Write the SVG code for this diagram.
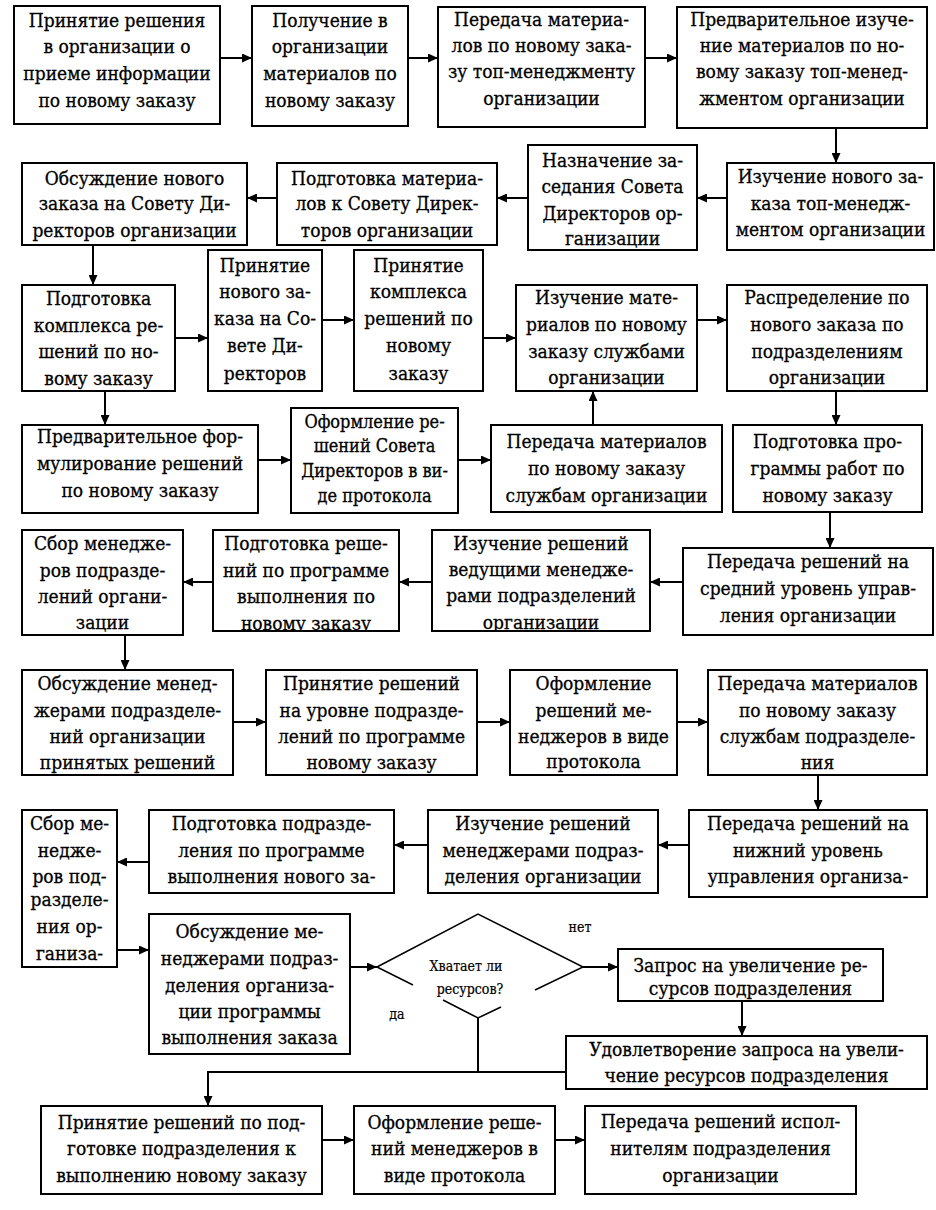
<svg xmlns="http://www.w3.org/2000/svg" width="936" height="1210" viewBox="0 0 936 1210">
<style>
.b{fill:#fff;stroke:#000;stroke-width:2}
.t{font-family:'DejaVu Serif Condensed','DejaVu Serif','Liberation Serif',serif;font-size:19px;text-anchor:middle;fill:#000;stroke:#000;stroke-width:0.3}
.s{font-family:'DejaVu Serif Condensed','DejaVu Serif','Liberation Serif',serif;font-size:14px;text-anchor:middle;fill:#000;stroke:#000;stroke-width:0.2}
.c{fill:none;stroke:#000;stroke-width:2;marker-end:url(#ah)}
.l{fill:none;stroke:#000;stroke-width:2}
</style>
<defs>
<marker id="ah" markerUnits="userSpaceOnUse" markerWidth="11" markerHeight="9" refX="10" refY="4.5" orient="auto"><path d="M0,0 L10,4.5 L0,9 z" fill="#000"/></marker>
<clipPath id="cp19"><rect x="432" y="530" width="218" height="101"/></clipPath>
<clipPath id="cp20"><rect x="213" y="530" width="186" height="101"/></clipPath>
</defs>
<rect width="936" height="1210" fill="#fff"/>

<g id="n1"><rect class="b" x="14" y="6" width="206" height="118"/><text class="t"><tspan x="117" y="27">Принятие решения</tspan><tspan x="117" y="53">в организации о</tspan><tspan x="117" y="80">приеме информации</tspan><tspan x="117" y="107">по новому заказу</tspan></text></g>
<g id="n2"><rect class="b" x="252" y="6" width="156" height="120"/><text class="t"><tspan x="330" y="27">Получение  в</tspan><tspan x="330" y="53">организации</tspan><tspan x="330" y="80">материалов по</tspan><tspan x="330" y="107">новому заказу</tspan></text></g>
<g id="n3"><rect class="b" x="438" y="7" width="207" height="120"/><text class="t"><tspan x="541.5" y="26">Передача материа-</tspan><tspan x="541.5" y="52">лов по новому зака-</tspan><tspan x="541.5" y="78">зу топ-менеджменту</tspan><tspan x="541.5" y="105">организации</tspan></text></g>
<g id="n4"><rect class="b" x="677" y="7" width="250" height="121"/><text class="t"><tspan x="802" y="26">Предварительное изуче-</tspan><tspan x="802" y="52">ние материалов по но-</tspan><tspan x="802" y="78">вому заказу топ-менед-</tspan><tspan x="802" y="105">жментом организации</tspan></text></g>
<g id="n5"><rect class="b" x="727" y="163" width="207" height="87"/><text class="t"><tspan x="830.5" y="183">Изучение нового за-</tspan><tspan x="830.5" y="210">каза топ-менедж-</tspan><tspan x="830.5" y="236">ментом организации</tspan></text></g>
<g id="n6"><rect class="b" x="528" y="145" width="169" height="105"/><text class="t"><tspan x="612.5" y="167">Назначение за-</tspan><tspan x="612.5" y="193">седания Совета</tspan><tspan x="612.5" y="220">Директоров ор-</tspan><tspan x="612.5" y="245">ганизации</tspan></text></g>
<g id="n7"><rect class="b" x="277" y="163" width="220" height="82"/><text class="t"><tspan x="387" y="185">Подготовка материа-</tspan><tspan x="387" y="210">лов к Совету Дирек-</tspan><tspan x="387" y="237">торов организации</tspan></text></g>
<g id="n8"><rect class="b" x="22" y="163" width="225" height="82"/><text class="t"><tspan x="134.5" y="185">Обсуждение нового</tspan><tspan x="134.5" y="210">заказа на Совету Ди-</tspan><tspan x="134.5" y="237">ректоров организации</tspan></text></g>
<g id="n9"><rect class="b" x="22" y="285" width="153" height="106"/><text class="t"><tspan x="98.5" y="305">Подготовка</tspan><tspan x="98.5" y="332">комплекса ре-</tspan><tspan x="98.5" y="358">шений по но-</tspan><tspan x="98.5" y="385">вому заказу</tspan></text></g>
<g id="n10"><rect class="b" x="208" y="250" width="114" height="141"/><text class="t"><tspan x="265" y="272">Принятие</tspan><tspan x="265" y="298">нового за-</tspan><tspan x="265" y="325">каза на Со-</tspan><tspan x="265" y="352">вете Ди-</tspan><tspan x="265" y="380">ректоров</tspan></text></g>
<g id="n11"><rect class="b" x="354" y="250" width="129" height="141"/><text class="t"><tspan x="418.5" y="272">Принятие</tspan><tspan x="418.5" y="298">комплекса</tspan><tspan x="418.5" y="325">решений по</tspan><tspan x="418.5" y="352">новому</tspan><tspan x="418.5" y="380">заказу</tspan></text></g>
<g id="n12"><rect class="b" x="516" y="285" width="181" height="106"/><text class="t"><tspan x="606.5" y="304">Изучение мате-</tspan><tspan x="606.5" y="331">риалов по новому</tspan><tspan x="606.5" y="358">заказу службами</tspan><tspan x="606.5" y="384">организации</tspan></text></g>
<g id="n13"><rect class="b" x="727" y="285" width="200" height="106"/><text class="t"><tspan x="827" y="304">Распределение  по</tspan><tspan x="827" y="331">нового заказа по</tspan><tspan x="827" y="358">подразделениям</tspan><tspan x="827" y="384">организации</tspan></text></g>
<g id="n14"><rect class="b" x="22" y="425" width="236" height="88"/><text class="t"><tspan x="140" y="443">Предварительное фор-</tspan><tspan x="140" y="470">мулирование решений</tspan><tspan x="140" y="497">по новому заказу</tspan></text></g>
<g id="n15"><rect class="b" x="291" y="408" width="167" height="105"/><text class="t" style="font-size:18px"><tspan x="374.5" y="428">Оформление ре-</tspan><tspan x="374.5" y="452">шений Совета</tspan><tspan x="374.5" y="477">Директоров в ви-</tspan><tspan x="374.5" y="502">де протокола</tspan></text></g>
<g id="n16"><rect class="b" x="491" y="425" width="231" height="87"/><text class="t"><tspan x="606.5" y="448">Передача материалов</tspan><tspan x="606.5" y="475">по новому заказу</tspan><tspan x="606.5" y="502">службам организации</tspan></text></g>
<g id="n17"><rect class="b" x="733" y="425" width="189" height="87"/><text class="t"><tspan x="827.5" y="448">Подготовка про-</tspan><tspan x="827.5" y="475">граммы работ по</tspan><tspan x="827.5" y="502">новому заказу</tspan></text></g>
<g id="n18"><rect class="b" x="683" y="548" width="250" height="87"/><text class="t"><tspan x="808" y="568">Передача решений  на</tspan><tspan x="808" y="595">средний уровень управ-</tspan><tspan x="808" y="622">ления организации</tspan></text></g>
<g id="n19"><rect class="b" x="432" y="530" width="218" height="101"/><text class="t" clip-path="url(#cp19)"><tspan x="541" y="550">Изучение решений</tspan><tspan x="541" y="576">ведущими менедже-</tspan><tspan x="541" y="602">рами подразделений</tspan><tspan x="541" y="629">организации</tspan></text><rect x="432" y="530" width="218" height="101" fill="none" stroke="#000" stroke-width="2"/></g>
<g id="n20"><rect class="b" x="213" y="530" width="186" height="101"/><text class="t" clip-path="url(#cp20)"><tspan x="306" y="550">Подготовка реше-</tspan><tspan x="306" y="577">ний по программе</tspan><tspan x="306" y="603">выполнения по</tspan><tspan x="306" y="630">новому заказу</tspan></text><rect x="213" y="530" width="186" height="101" fill="none" stroke="#000" stroke-width="2"/></g>
<g id="n21"><rect class="b" x="22" y="530" width="161" height="105"/><text class="t"><tspan x="102.5" y="550">Сбор менедже-</tspan><tspan x="102.5" y="577">ров подразде-</tspan><tspan x="102.5" y="603">лений органи-</tspan><tspan x="102.5" y="629">зации</tspan></text></g>
<g id="n22"><rect class="b" x="22" y="670" width="211" height="105"/><text class="t"><tspan x="127.5" y="690">Обсуждение менед-</tspan><tspan x="127.5" y="717">жерами подразделе-</tspan><tspan x="127.5" y="743">ний организации</tspan><tspan x="127.5" y="769">принятых решений</tspan></text></g>
<g id="n23"><rect class="b" x="266" y="670" width="211" height="105"/><text class="t"><tspan x="371.5" y="690">Принятие решений</tspan><tspan x="371.5" y="717">на уровне подразде-</tspan><tspan x="371.5" y="743">лений по программе</tspan><tspan x="371.5" y="769">новому заказу</tspan></text></g>
<g id="n24"><rect class="b" x="510" y="670" width="167" height="105"/><text class="t"><tspan x="593.5" y="690">Оформление</tspan><tspan x="593.5" y="717">решений ме-</tspan><tspan x="593.5" y="743">неджеров в виде</tspan><tspan x="593.5" y="768">протокола</tspan></text></g>
<g id="n25"><rect class="b" x="708" y="670" width="219" height="105"/><text class="t"><tspan x="817.5" y="690">Передача материалов</tspan><tspan x="817.5" y="717">по новому заказу</tspan><tspan x="817.5" y="743">службам подразделе-</tspan><tspan x="817.5" y="769">ния</tspan></text></g>
<g id="n26"><rect class="b" x="689" y="810" width="238" height="87"/><text class="t"><tspan x="808" y="830">Передача решений  на</tspan><tspan x="808" y="857">нижний уровень</tspan><tspan x="808" y="883">управления организа-</tspan></text></g>
<g id="n27"><rect class="b" x="428" y="810" width="230" height="83"/><text class="t"><tspan x="543" y="830">Изучение решений</tspan><tspan x="543" y="857">менеджерами подраз-</tspan><tspan x="543" y="883">деления организации</tspan></text></g>
<g id="n28"><rect class="b" x="149" y="810" width="245" height="83"/><text class="t"><tspan x="271.5" y="830">Подготовка подразде-</tspan><tspan x="271.5" y="857">ления по программе</tspan><tspan x="271.5" y="883">выполнения нового за-</tspan></text></g>
<g id="n29"><rect class="b" x="22" y="810" width="95" height="157"/><text class="t"><tspan x="69.5" y="830">Сбор ме-</tspan><tspan x="69.5" y="857">недже-</tspan><tspan x="69.5" y="883">ров под-</tspan><tspan x="69.5" y="906">разделе-</tspan><tspan x="69.5" y="933">ния ор-</tspan><tspan x="69.5" y="960">ганиза-</tspan></text></g>
<g id="n30"><rect class="b" x="149" y="914" width="201" height="140"/><text class="t"><tspan x="249.5" y="938">Обсуждение ме-</tspan><tspan x="249.5" y="965">неджерами подраз-</tspan><tspan x="249.5" y="992">деления организа-</tspan><tspan x="249.5" y="1018">ции программы</tspan><tspan x="249.5" y="1044">выполнения заказа</tspan></text></g>
<g id="d1"><path class="l" style="stroke-width:1.5" d="M377,967 L478,914 L583,967 L535,990 M501,1007 L478,1018 L443,1000 M413,985 L377,967"/><text class="s"><tspan x="466" y="971">Хватает ли</tspan><tspan x="470" y="994">ресурсов?</tspan></text></g>
<g id="n31"><rect class="b" x="618" y="949" width="265" height="52"/><text class="t"><tspan x="750.5" y="972">Запрос на увеличение  ре-</tspan><tspan x="750.5" y="995">сурсов подразделения</tspan></text></g>
<g id="n32"><rect class="b" x="566" y="1036" width="361" height="53"/><text class="t"><tspan x="746.5" y="1056">Удовлетворение запроса на увели-</tspan><tspan x="746.5" y="1082">чение ресурсов подразделения</tspan></text></g>
<g id="n33"><rect class="b" x="41" y="1106" width="281" height="88"/><text class="t"><tspan x="181.5" y="1129">Принятие решений  по под-</tspan><tspan x="181.5" y="1155">готовке подразделения  к</tspan><tspan x="181.5" y="1182">выполнению  новому заказу</tspan></text></g>
<g id="n34"><rect class="b" x="354" y="1106" width="201" height="88"/><text class="t"><tspan x="454.5" y="1129">Оформление реше-</tspan><tspan x="454.5" y="1155">ний менеджеров в</tspan><tspan x="454.5" y="1182">виде протокола</tspan></text></g>
<g id="n35"><rect class="b" x="585" y="1106" width="271" height="88"/><text class="t"><tspan x="720.5" y="1128">Передача решений  испол-</tspan><tspan x="720.5" y="1155">нителям подразделения</tspan><tspan x="720.5" y="1182">организации</tspan></text></g>

<g id="labels"><text class="s" x="580" y="932">нет</text><text class="s" x="397" y="1019">да</text></g>

<g id="connectors">
<path class="c" d="M220,58 H252"/>
<path class="c" d="M408,58 H438"/>
<path class="c" d="M645,58 H677"/>
<path class="c" d="M836,128 V163"/>
<path class="c" d="M727,198 H697"/>
<path class="c" d="M528,198 H497"/>
<path class="c" d="M277,198 H247"/>
<path class="c" d="M93,245 V285"/>
<path class="c" d="M175,338 H208"/>
<path class="c" d="M322,320 H354"/>
<path class="c" d="M483,338 H516"/>
<path class="c" d="M697,320 H727"/>
<path class="c" d="M836,391 V425"/>
<path class="c" d="M105,391 V425"/>
<path class="c" d="M258,460 H291"/>
<path class="c" d="M458,460 H491"/>
<path class="c" d="M593,425 V391"/>
<path class="c" d="M830,512 V548"/>
<path class="c" d="M683,582 H650"/>
<path class="c" d="M432,582 H399"/>
<path class="c" d="M213,582 H183"/>
<path class="c" d="M125,635 V670"/>
<path class="c" d="M233,722 H266"/>
<path class="c" d="M477,722 H510"/>
<path class="c" d="M677,722 H708"/>
<path class="c" d="M818,775 V810"/>
<path class="c" d="M689,845 H658"/>
<path class="c" d="M428,845 H394"/>
<path class="c" d="M149,862 H117"/>
<path class="c" d="M117,950 H149"/>
<path class="c" d="M350,967 H377"/>
<path class="c" d="M583,967 H618"/>
<path class="c" d="M742,1001 V1036"/>
<path class="l" d="M478,1018 V1072"/>
<path class="c" d="M566,1072 H208 V1106"/>
<path class="c" d="M322,1140 H354"/>
<path class="c" d="M555,1140 H585"/>
</g>
</svg>
